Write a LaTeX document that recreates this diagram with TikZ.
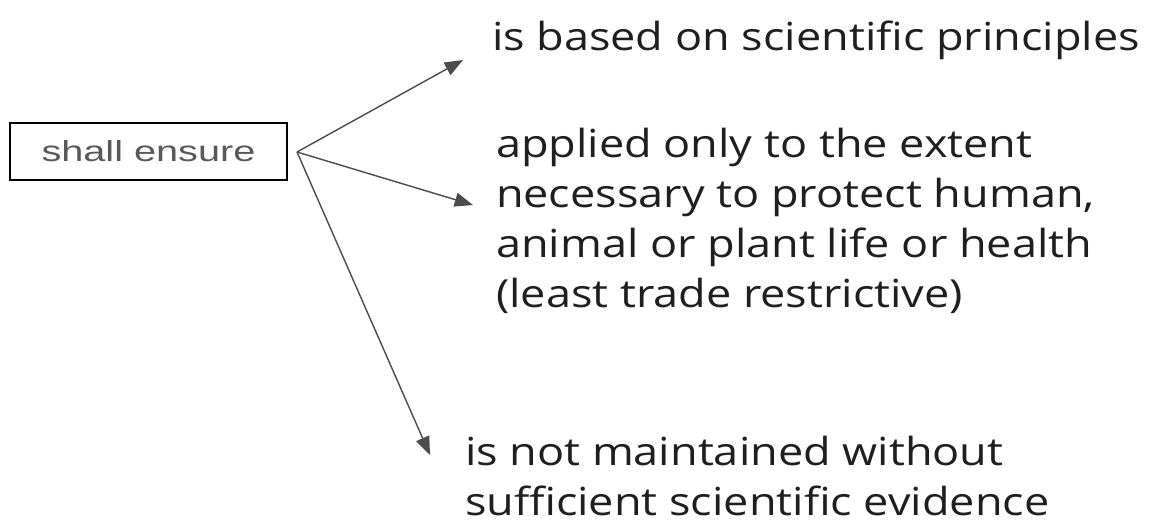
\documentclass[tikz,border=0pt]{standalone}
\usepackage{fontspec}
\setmainfont{Open Sans}[FakeStretch=1.165]
\newfontfamily\boxfont{Liberation Sans}
\usetikzlibrary{arrows.meta}

\begin{document}
\begin{tikzpicture}[x=0.025cm, y=-0.025cm,
  >={Triangle[length=13pt,width=10pt]}, %
  inner sep=0pt, outer sep=0pt,%
  box node/.style={draw=black,line width=1.4pt,minimum width=6.925cm,minimum height=1.425cm,text=black!65},
  item/.style={anchor=base west,align=left,text=black!88,font=\fontsize{27.5}{35.5}\selectfont},
  link/.style={draw=black!70,line width=1pt,->}]

\useasboundingbox (0,0) rectangle (1156,529);

\node[box node] (ensure) at (148.5,151.5) {\boxfont\fontsize{20.6}{24}\selectfont\scalebox{1.37}[1]{shall ensure}};

\coordinate (fork) at (297,152);
\coordinate (tipA) at (463,60);
\coordinate (tipB) at (473,205);
\coordinate (tipC) at (430,455);

% base anchor sits on the last line
\node[item] (basis) at (492,50) {is based on scientific principles};
\node[item] (extent) at (496,307) {applied only to the extent\\necessary to protect human,\\animal or plant life or health\\(least trade restrictive)};
\node[item] (evidence) at (465,515) {is not maintained without\\sufficient scientific evidence};

\draw[link] (fork) -- (tipA);
\draw[link] (fork) -- (tipB);
\draw[link] (fork) -- (tipC);

\end{tikzpicture}
\end{document}
